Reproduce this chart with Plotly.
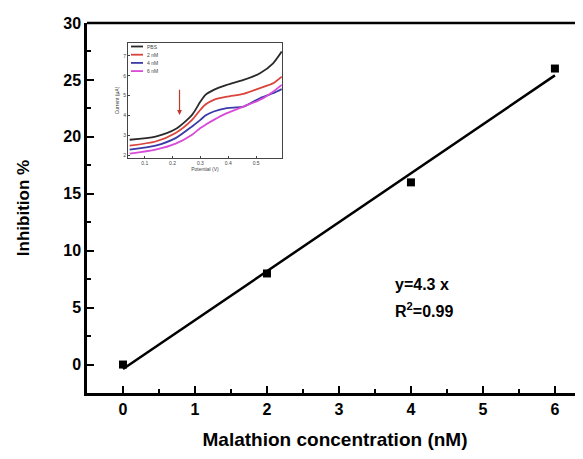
import numpy as np
import plotly.graph_objects as go

# Main data
conc = [0, 2, 4, 6]
inhibition = [0, 8, 16, 26]

# Inset data (potential vs current)
potential = [0.046, 0.139, 0.211, 0.27, 0.30, 0.318, 0.348, 0.395, 0.455, 0.514, 0.561, 0.592]
cur_pbs = [2.78, 2.94, 3.32, 4.03, 4.70, 5.04, 5.29, 5.54, 5.79, 6.13, 6.63, 7.22]
cur_2nm = [2.48, 2.69, 3.12, 3.78, 4.29, 4.55, 4.79, 4.95, 5.09, 5.38, 5.62, 5.96]
cur_4nm = [2.28, 2.48, 2.86, 3.45, 3.78, 4.00, 4.20, 4.37, 4.45, 4.87, 5.12, 5.33]
cur_6nm = [2.08, 2.28, 2.58, 3.03, 3.37, 3.53, 3.78, 4.12, 4.45, 4.79, 5.20, 5.54]
inset_names = ["PBS", "2 nM", "4 nM", "6 nM"]
inset_colors = ["#2a2a2a", "#d9443c", "#3a3aa8", "#d84ad8"]

slope, intercept = np.polyfit(conc, inhibition, 1)
fit_x = [min(conc), max(conc)]
fit_y = [slope * v + intercept for v in fit_x]

# page has an 8px body margin; figure fills the rest of the window
OFF = 8
W, H = 575, 451
L, R, T, B = 79, 0, 15, 66
pw, ph = W - L - R, H - T - B

def px_x(p):
    return (p - OFF - L) / pw

def px_y(p):
    return (H - B - (p - OFF)) / ph

font = "Liberation Sans, Arial, sans-serif"
fig = go.Figure()

fig.add_trace(go.Scatter(x=fit_x, y=fit_y, mode="lines",
                         line=dict(color="black", width=2.5), showlegend=False))
fig.add_trace(go.Scatter(x=conc, y=inhibition, mode="markers",
                         marker=dict(symbol="square", size=8, color="black"),
                         showlegend=False))

for name, col, ys in zip(inset_names, inset_colors, [cur_pbs, cur_2nm, cur_4nm, cur_6nm]):
    fig.add_trace(go.Scatter(x=potential, y=ys, mode="lines", name=name,
                             line=dict(color=col, width=1.8, shape="spline", smoothing=0.7),
                             xaxis="x2", yaxis="y2", showlegend=False))

axis_common = dict(showline=True, linecolor="black", linewidth=2.5, ticks="inside",
                   ticklen=7, tickwidth=2, tickcolor="black", showgrid=False, zeroline=False,
                   tickfont=dict(family=font, size=16, color="black", weight="bold"))

fig.update_layout(
    width=W, height=H,
    margin=dict(l=L, r=R, t=T, b=B),
    paper_bgcolor="white", plot_bgcolor="white",
    xaxis=dict(range=[-0.5, 6.39], dtick=1, tick0=0,
               minor=dict(ticks="inside", ticklen=4, tickwidth=2, dtick=0.5, tick0=0, tickcolor="black"),
               title=dict(text="<b>Malathion concentration (nM)</b>", standoff=16,
                          font=dict(family=font, size=19, color="black")),
               **axis_common),
    yaxis=dict(range=[-2.5, 30], dtick=5, tick0=0,
               minor=dict(ticks="inside", ticklen=4, tickwidth=2, dtick=2.5, tick0=0, tickcolor="black"),
               title=dict(text="<b>Inhibition %</b>", standoff=30,
                          font=dict(family=font, size=17, color="black")),
               **axis_common),
    xaxis2=dict(domain=[px_x(128), px_x(282)], anchor="y2", range=[0.04, 0.593],
                tickvals=[0.1, 0.2, 0.3, 0.4, 0.5], ticktext=["0.1", "0.2", "0.3", "0.4", "0.5"],
                showline=True, mirror=True, linecolor="#444", linewidth=1, ticks="inside",
                ticklen=2, tickcolor="#444", showgrid=False, zeroline=False,
                tickfont=dict(family=font, size=5, color="#444"),
                title=dict(text="Potential (V)", standoff=2, font=dict(family=font, size=5, color="#444"))),
    yaxis2=dict(domain=[px_y(158), px_y(43)], anchor="x2", range=[1.86, 7.65],
                tickvals=[2, 3, 4, 5, 6, 7],
                showline=True, mirror=True, linecolor="#444", linewidth=1, ticks="inside",
                ticklen=2, tickcolor="#444", showgrid=False, zeroline=False,
                tickfont=dict(family=font, size=5, color="#444"),
                title=dict(text="Current (μA)", standoff=3, font=dict(family=font, size=5, color="#444"))),
    showlegend=False,
)

# top frame line of the main plot
fig.add_shape(type="line", xref="paper", yref="paper", x0=0, x1=1, y0=1, y1=1,
              line=dict(color="black", width=2.5))

# inset legend
leg_top, leg_gap = 46.5, 8.2
for i, (name, col) in enumerate(zip(inset_names, inset_colors)):
    yy = px_y(leg_top + i * leg_gap)
    fig.add_shape(type="line", xref="paper", yref="paper", x0=px_x(131), x1=px_x(143),
                  y0=yy, y1=yy, line=dict(color=col, width=1.8))
    fig.add_annotation(x=px_x(145), y=yy, xref="paper", yref="paper", xanchor="left",
                       yanchor="middle", showarrow=False, text=name,
                       font=dict(family=font, size=5, color="#444"))

# red arrow in inset
fig.add_annotation(x=0.225, y=4.03, ax=0.225, ay=5.37, xref="x2", yref="y2", axref="x2", ayref="y2",
                   text="", showarrow=True, arrowhead=2, arrowsize=0.8, arrowwidth=1.2,
                   arrowcolor="#c0392b")

fig.add_annotation(x=3.75, y=7.0, xref="x", yref="y", xanchor="left", showarrow=False,
                   text="<b>y=4.3 x</b>", font=dict(family=font, size=16, color="black"))
fig.add_annotation(x=3.75, y=4.8, xref="x", yref="y", xanchor="left", showarrow=False,
                   text="<b>R<sup>2</sup>=0.99</b>", font=dict(family=font, size=16, color="black"))

fig.write_html("out.html")
